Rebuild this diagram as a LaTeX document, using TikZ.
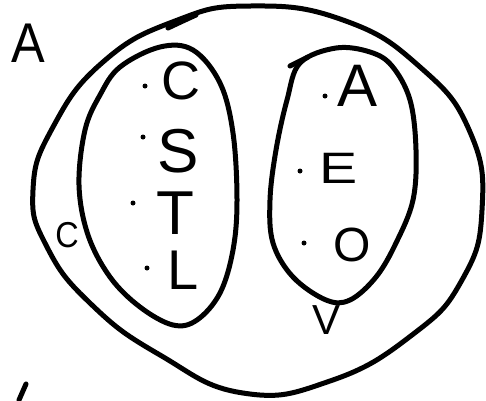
\documentclass[tikz,border=0pt]{standalone}
\usepackage{fontspec}
\setmainfont{Liberation Sans}
\begin{document}
\begin{tikzpicture}[x=1pt,y=-1pt,
  pen/.style={line width=5pt,line cap=round,line join=round,black},
  letter/.style={inner sep=0pt,outer sep=0pt,font=\fontsize{#1}{#1}\selectfont},
  pt/.style={circle,fill=black,inner sep=0pt,minimum size=5pt}]
\useasboundingbox (0,0) rectangle (486,400);
% outer set
\draw[pen] plot[smooth cycle,tension=0.8] coordinates {(250,6) (343,20) (420,67) (470,132) (482,210) (462,280) (412,335) (330,381) (243,393) (160,355) (92,305) (47,247) (33,190) (53,127) (103,62) (175,21)};
\draw[pen] (196,15) .. controls (185,20) .. (168,28);
% left inner set
\draw[pen] plot[smooth cycle,tension=0.6] coordinates {(160,47) (193,50) (220,83) (233,133) (237,200) (233,250) (220,293) (197,320) (173,325) (140,307) (110,277) (88,235) (79,185) (85,130) (100,95) (120,67)};
% right inner set
\draw[pen] plot[smooth cycle,tension=0.6] coordinates {(336,48) (370,52) (392,66) (410,100) (416,150) (413,200) (396,243) (376,277) (350,300) (326,300) (293,277) (273,243) (270,200) (276,150) (287,100) (300,63)};
\draw[pen] (290,66) -- (308,57);
% stray stroke bottom left
\draw[pen] (26,384) -- (19,400);
% labels
\node[letter=56,xscale=0.9] (lA) at (28,43) {A};
\node[letter=36,xscale=0.9] (lC) at (67,235) {C};
\node[letter=42] (lV) at (326,320) {V};
% left set elements
\node[pt] (dC) at (145,86) {};
\node[letter=54] (eC) at (181,81) {C};
\node[pt] (dS) at (143,137) {};
\node[letter=62] (eS) at (178,151) {S};
\node[pt] (dT) at (133,203) {};
\node[letter=62] (eT) at (175,213) {T};
\node[pt] (dL) at (147,268) {};
\node[letter=56] (eL) at (183,270) {L};
% right set elements
\node[pt] (dA) at (325,96) {};
\node[letter=60] (eA) at (358,86) {A};
\node[pt] (dE) at (300,171) {};
\node[letter=44,xscale=1.3] (eE) at (339,168) {E};
\node[pt] (dO) at (304,243) {};
\node[letter=48] (eO) at (352,245) {O};
\end{tikzpicture}
\end{document}
